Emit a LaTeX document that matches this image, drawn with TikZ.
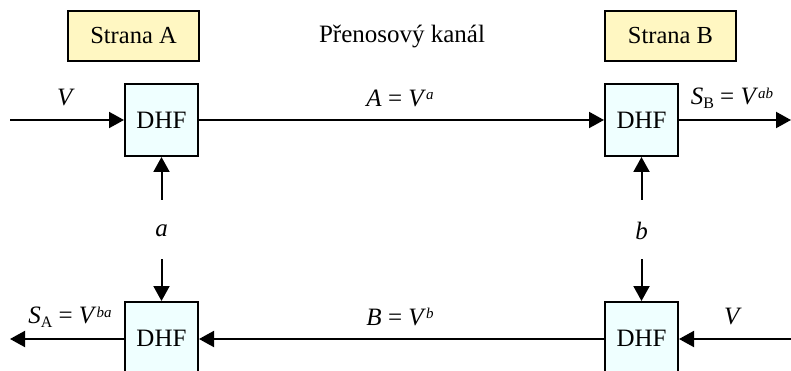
\documentclass[tikz,border=0pt]{standalone}
\usepackage{fontspec}
\setmainfont{Liberation Serif}
\usetikzlibrary{arrows.meta}
\definecolor{stranafill}{HTML}{FFF7C2}
\definecolor{dhffill}{HTML}{EFFFFF}
\tikzset{
  side/.style={draw=black, line width=2pt, fill=stranafill, minimum width=131pt, minimum height=50pt, inner sep=0pt, font=\fontsize{24.5}{26}\selectfont},
  dhf/.style={draw=black, line width=2pt, fill=dhffill, minimum width=73pt, minimum height=72pt, inner sep=0pt, font=\fontsize{25}{27}\selectfont},
  conn/.style={line width=2pt, -{Triangle[length=15pt,width=16pt]}},
  lbl/.style={font=\fontsize{25}{27}\selectfont, inner sep=0pt},
}
\newcommand{\supit}[1]{\raisebox{0.55ex}{\fontsize{15}{16}\selectfont\textit{#1}}}
\newcommand{\subup}[1]{\raisebox{-0.35ex}{\fontsize{16}{17}\selectfont #1}}
\begin{document}
\begin{tikzpicture}[x=1pt,y=-1pt]
\useasboundingbox (0,0) rectangle (791,371);
\node[side] (sa) at (133.5,36) {Strana A};
\node[side] (sb) at (670.5,36) {Strana B};
\node[lbl] (kanal) at (402,37) {Přenosový kanál};

\node[dhf] (d1) at (161.5,120) {DHF};
\node[dhf] (d2) at (641.5,120) {DHF};
\node[dhf] (d3) at (161.5,338) {DHF};
\node[dhf] (d4) at (641.5,338) {DHF};

\coordinate (inA) at (10,120);
\coordinate (outB) at (791,120);
\coordinate (outA) at (10,339);
\coordinate (inB) at (791,339);
\coordinate (a1) at (161.5,200);
\coordinate (a2) at (161.5,259);
\coordinate (b1) at (641.5,200);
\coordinate (b2) at (641.5,259);

\draw[conn] (inA) -- (d1.west);
\draw[conn] (d1.east) -- (d2.west);
\draw[conn] (d2.east) -- (outB);
\draw[conn] (inB) -- (d4.east|-inB);
\draw[conn] (d4.west|-inB) -- (d3.east|-inB);
\draw[conn] (d3.west|-outA) -- (outA);
\draw[conn] (a1) -- (d1.south);
\draw[conn] (a2) -- (d3.north);
\draw[conn] (b1) -- (d2.south);
\draw[conn] (b2) -- (d4.north);

\node[lbl] (lv1) at (66,98) {\textit{V}};
\node[lbl] (la) at (400,98) {\textit{A} = \textit{V}\supit{a}};
\node[lbl] (lsb) at (732,98) {\textit{S}\subup{B} = \textit{V}\supit{ab}};
\node[lbl] (lsa) at (70,317) {\textit{S}\subup{A} = \textit{V}\supit{ba}};
\node[lbl] (lb) at (400,317) {\textit{B} = \textit{V}\supit{b}};
\node[lbl] (lv2) at (733,317) {\textit{V}};
\node[lbl] (ka) at (161.5,231) {\textit{a}};
\node[lbl] (kb) at (641.5,231) {\textit{b}};
\end{tikzpicture}
\end{document}
